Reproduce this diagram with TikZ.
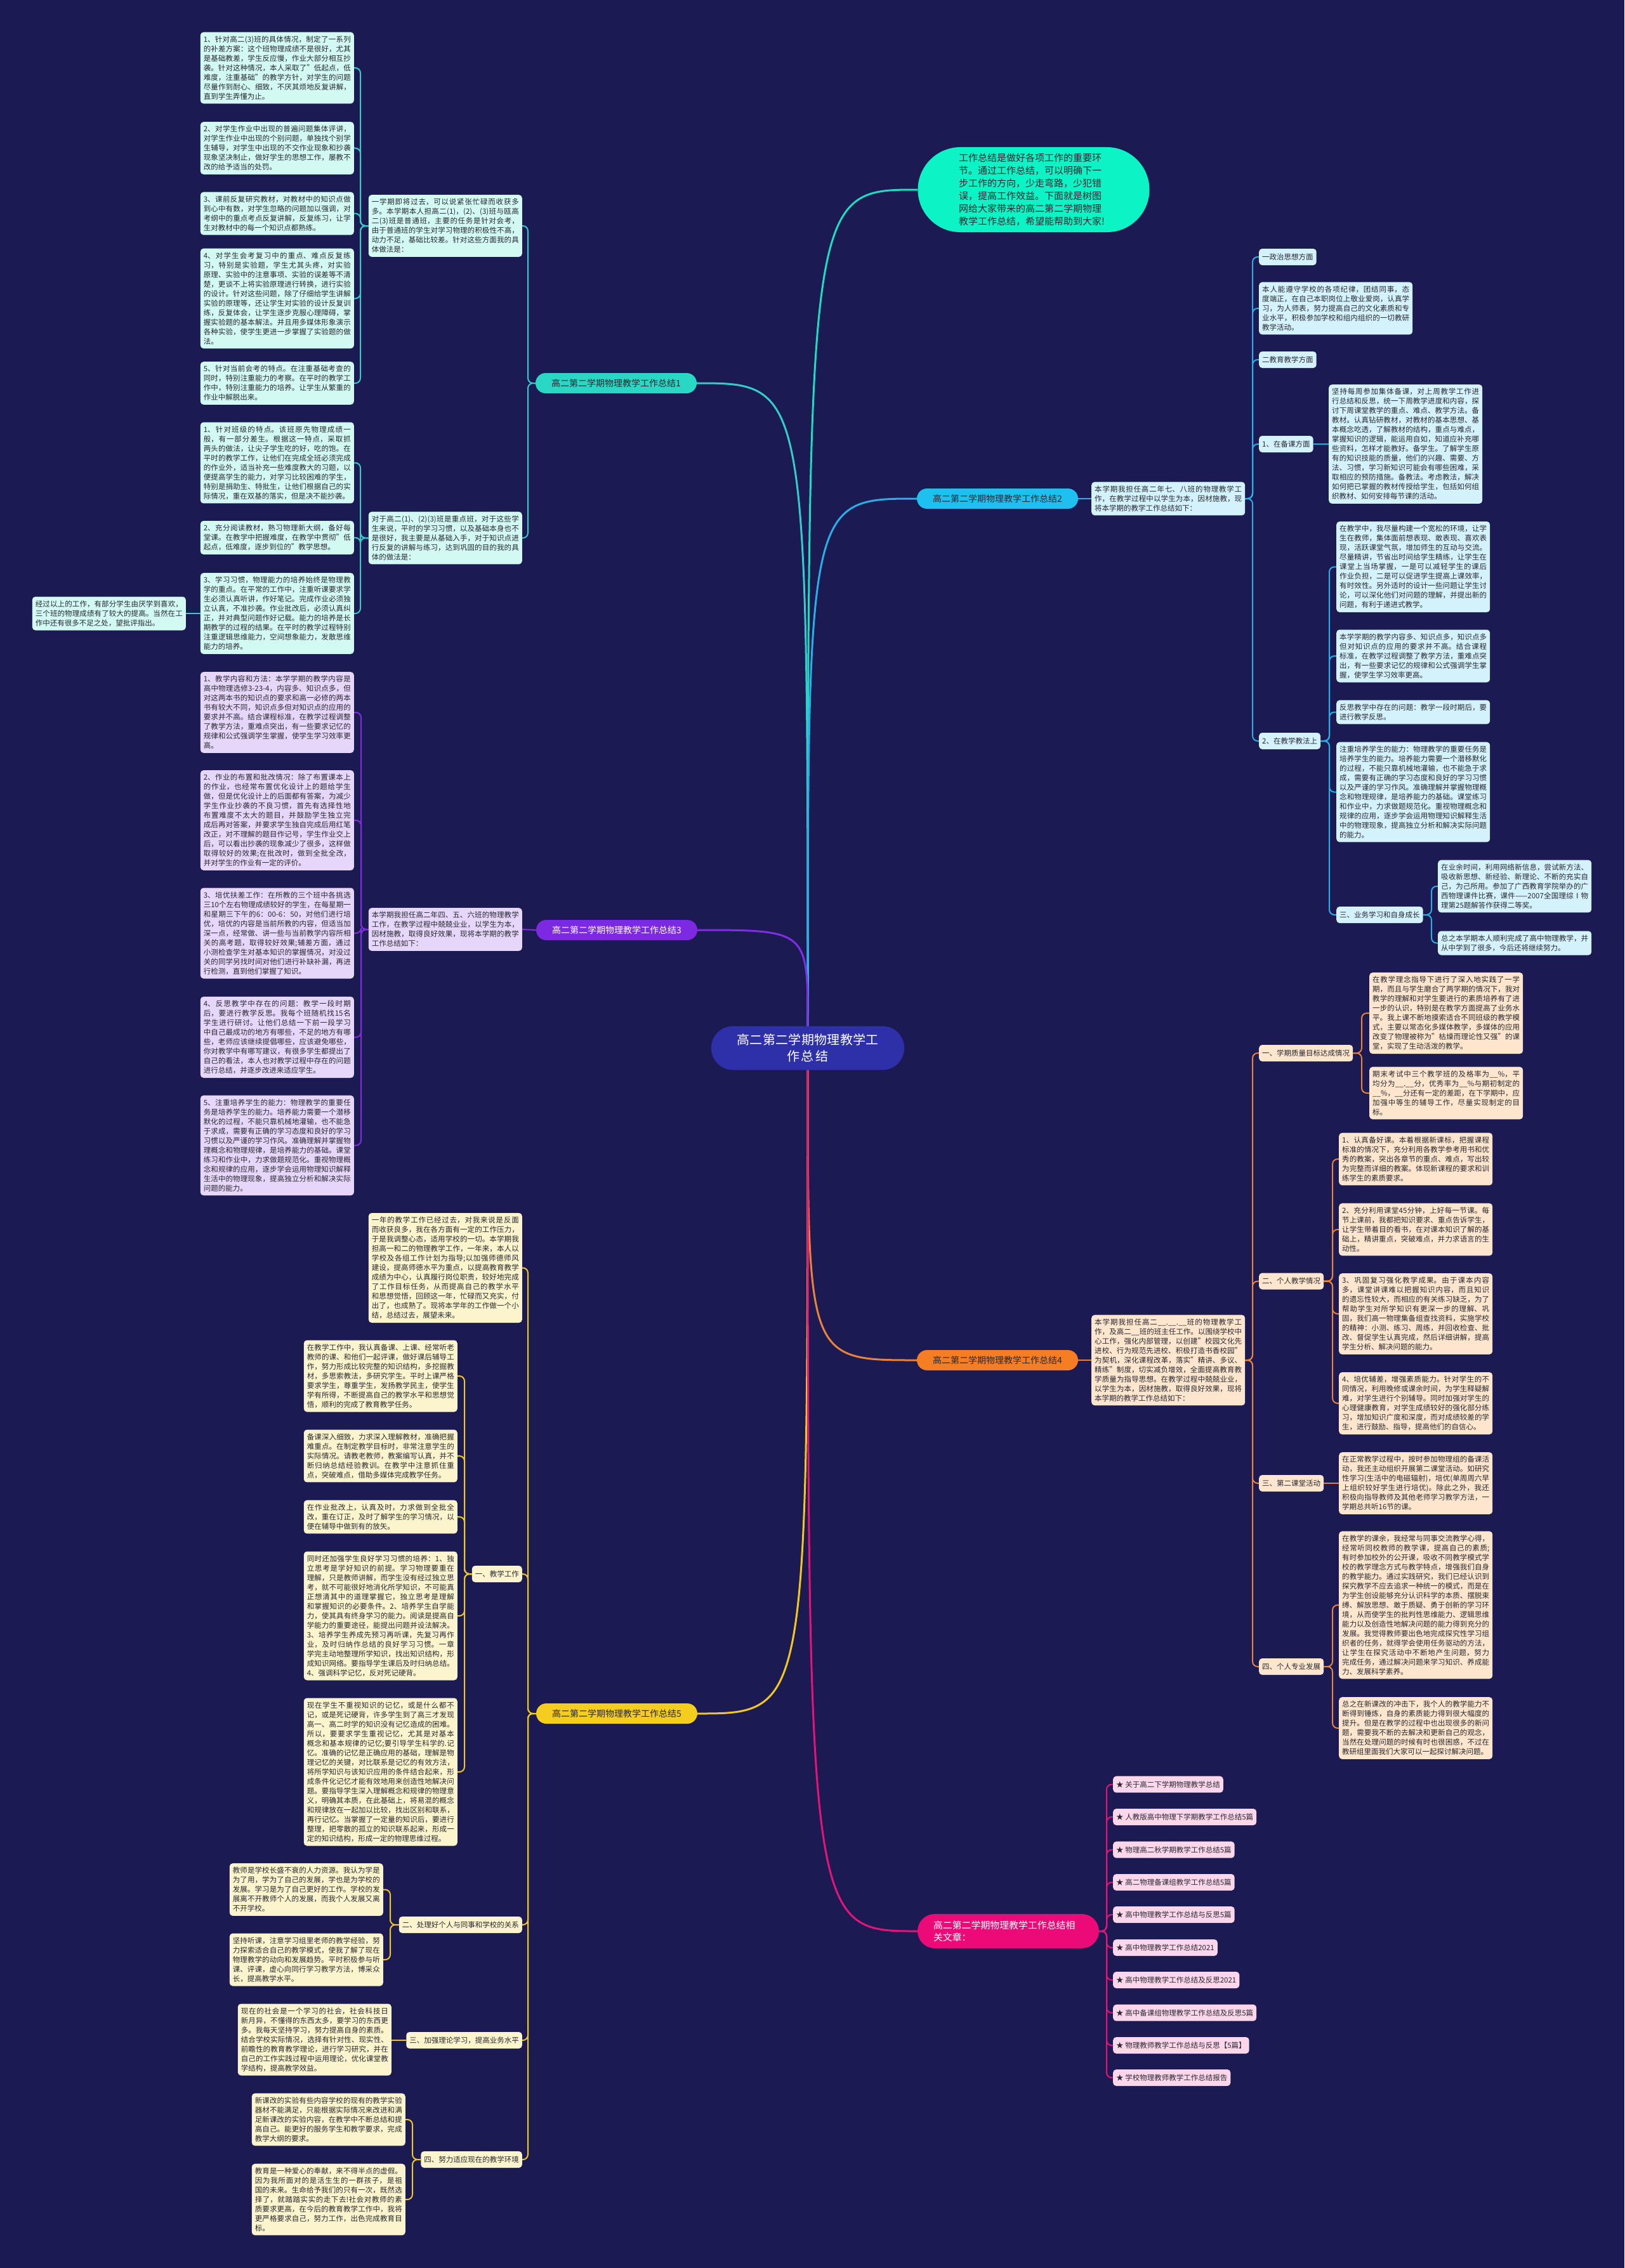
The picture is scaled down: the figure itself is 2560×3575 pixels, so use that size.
\documentclass[tikz,border=0pt]{standalone}
\usepackage{fontspec}
\setmainfont{Noto Sans CJK SC}
\XeTeXlinebreaklocale "zh"
\XeTeXlinebreakskip = 0pt plus 1pt
\pgfdeclarelayer{back}
\pgfdeclarelayer{bg}
\pgfsetlayers{back,bg,main}
\definecolor{bgc}{RGB}{27,26,82}
\definecolor{txt}{RGB}{40,40,48}
\definecolor{cen}{RGB}{46,48,170}
\definecolor{ell}{RGB}{12,244,198}
\definecolor{elline}{RGB}{30,220,190}
\definecolor{b1c}{RGB}{42,214,196}
\definecolor{b1l}{RGB}{50,205,200}
\definecolor{l1}{RGB}{210,250,242}
\definecolor{b2c}{RGB}{30,192,240}
\definecolor{b2l}{RGB}{40,175,230}
\definecolor{l2}{RGB}{212,242,252}
\definecolor{b3c}{RGB}{125,40,225}
\definecolor{b3l}{RGB}{130,45,225}
\definecolor{l3}{RGB}{230,215,250}
\definecolor{b4c}{RGB}{245,125,35}
\definecolor{b4l}{RGB}{235,130,55}
\definecolor{l4}{RGB}{253,230,205}
\definecolor{b5c}{RGB}{245,205,30}
\definecolor{b5l}{RGB}{240,200,30}
\definecolor{l5}{RGB}{252,244,205}
\definecolor{b6c}{RGB}{235,10,120}
\definecolor{b6l}{RGB}{230,20,120}
\definecolor{l6}{RGB}{252,215,235}
\tikzset{
  leaf/.style={rectangle, rounded corners=5pt, text width=232pt, inner xsep=5pt, inner ysep=6pt,
    font=\fontsize{11.5pt}{15pt}\selectfont, text=txt, align=justify},
  sub/.style={rectangle, rounded corners=5pt, inner xsep=5pt, inner ysep=5pt, minimum height=26pt,
    font=\fontsize{11.5pt}{15pt}\selectfont, text=txt},
  branch/.style={rectangle, rounded corners=16pt, minimum width=254pt, minimum height=32pt,
    font=\fontsize{14pt}{17pt}\selectfont},
  conn/.style={line width=2pt, rounded corners=8pt},
  mainc/.style={line width=3pt},
}
\newcommand\mmL[3]{\draw[conn] (#1.west) -- (#1.west -| #2) |- (#3.east);}
\newcommand\mmR[3]{\draw[conn] (#1.east) -- (#1.east -| #2) |- (#3.west);}
\begin{document}
\begin{tikzpicture}[x=1pt,y=-1pt]
\begin{pgfonlayer}{back}
\fill[bgc] (0,0) rectangle (2560,3575);
\end{pgfonlayer}
\useasboundingbox (0,0) rectangle (2560,3575);

% centre and top
\node[fill=cen, text=white, rounded corners=34pt, minimum width=304pt, minimum height=69pt, text width=250pt, align=center, font=\fontsize{20pt}{26pt}\selectfont] (C) at (1273,1652) {高二第二学期物理教学工\\作总结};
\node[fill=ell, rounded corners=67pt, minimum width=365pt, minimum height=134pt, text width=236pt, align=left, text=txt, font=\fontsize{15pt}{20pt}\selectfont] (E) at (1629,299) {工作总结是做好各项工作的重要环\\节。通过工作总结，可以明确下一\\步工作的方向，少走弯路，少犯错\\误，提高工作效益。下面就是树图\\网给大家带来的高二第二学期物理\\教学工作总结，希望能帮助到大家!};

% branches
\node[branch, fill=b1c, text=txt] (B1) at (971,604) {高二第二学期物理教学工作总结1};
\node[branch, fill=b2c, text=txt] (B2) at (1572,786) {高二第二学期物理教学工作总结2};
\node[branch, fill=b3c, text=white] (B3) at (972,1466) {高二第二学期物理教学工作总结3};
\node[branch, fill=b4c, text=txt] (B4) at (1572,2144) {高二第二学期物理教学工作总结4};
\node[branch, fill=b5c, text=txt] (B5) at (972,2701) {高二第二学期物理教学工作总结5};
\node[fill=b6c, text=white, rounded corners=27pt, minimum width=286pt, minimum height=54pt, text width=236pt, align=left, font=\fontsize{14.9pt}{19pt}\selectfont] (B6) at (1589,3044) {高二第二学期物理教学工作总结相\\关文章：};

% ---------- branch 1 ----------
\coordinate (s1a) at (832,0);
\coordinate (s1b) at (568,0);
\node[leaf, fill=l1, anchor=east] (I1) at (823,356) {一学期即将过去，可以说紧张忙碌而收获多多。本学期本人担高二(1)，(2)、(3)班与瓯高二(3)班是普通班，主要的任务是针对会考，由于普通班的学生对学习物理的积极性不高，动力不足，基础比较差。针对这些方面我的具体做法是：};
\node[leaf, fill=l1, anchor=east] (I2) at (823,848) {对于高二(1)、(2)(3)班是重点班，对于这些学生来说，平时的学习习惯，以及基础本身也不是很好，我主要是从基础入手，对于知识点进行反复的讲解与练习，达到巩固的目的我的具体的做法是：};
\node[leaf, fill=l1, anchor=east] (L1) at (558,107) {1、针对高二(3)班的具体情况，制定了一系列的补差方案：这个班物理成绩不是很好，尤其是基础教差，学生反应慢，作业大部分相互抄袭。针对这种情况，本人采取了"低起点，低难度，注重基础"的教学方针，对学生的问题尽量作到耐心、细致，不厌其烦地反复讲解，直到学生弄懂为止。};
\node[leaf, fill=l1, anchor=east] (L2) at (558,233.5) {2、对学生作业中出现的普遍问题集体评讲，对学生作业中出现的个别问题，单独找个别学生辅导，对学生中出现的不交作业现象和抄袭现象坚决制止，做好学生的思想工作，屡教不改的给予适当的处罚。};
\node[leaf, fill=l1, anchor=east] (L3) at (558,336.5) {3、课前反复研究教材，对教材中的知识点做到心中有数，对学生忽略的问题加以强调，对考纲中的重点考点反复讲解，反复练习，让学生对教材中的每一个知识点都熟练。};
\node[leaf, fill=l1, anchor=east] (L4) at (558,470.5) {4、对学生会考复习中的重点、难点反复练习，特别是实验题，学生尤其头疼，对实验原理、实验中的注意事项、实验的误差等不清楚，更谈不上将实验原理进行转换，进行实验的设计。针对这些问题，除了仔细给学生讲解实验的原理等，还让学生对实验的设计反复训练，反复体会，让学生逐步克服心理障碍，掌握实验题的基本解法。并且用多媒体形象演示各种实验，使学生更进一步掌握了实验题的做法。};
\node[leaf, fill=l1, anchor=east] (L5) at (558,604) {5、针对当前会考的特点。在注重基础考查的同时，特别注重能力的考察。在平时的教学工作中，特别注重能力的培养。让学生从繁重的作业中解脱出来。};
\node[leaf, fill=l1, anchor=east] (L6) at (558,729.5) {1、针对班级的特点。该班原先物理成绩一般，有一部分差生。根据这一特点，采取抓两头的做法，让尖子学生吃的好，吃的饱。在平时的教学工作，让他们在完成全班必须完成的作业外，适当补充一些难度教大的习题，以便提高学生的能力，对学习比较困难的学生，特别是捐助生、特批生，让他们根据自己的实际情况，重在双基的落实，但是决不能抄袭。};
\node[leaf, fill=l1, anchor=east] (L7) at (558,847.5) {2、充分阅读教材，熟习物理新大纲，备好每堂课。在教学中把握难度，在教学中贯彻"低起点，低难度，逐步到位的"教学思想。};
\node[leaf, fill=l1, anchor=east] (L8) at (558,967) {3、学习习惯，物理能力的培养始终是物理教学的重点。在平常的工作中，注重听课要求学生必须认真听讲，作好笔记。完成作业必须独立认真，不准抄袭。作业批改后，必须认真纠正，并对典型问题作好记载。能力的培养是长期教学的过程的结果。在平时的教学过程特别注重逻辑思维能力，空间想象能力，发散思维能力的培养。};
\node[leaf, fill=l1, anchor=east] (F) at (293,967) {经过以上的工作，有部分学生由厌学到喜欢，三个班的物理成绩有了较大的提高。当然在工作中还有很多不足之处，望批评指出。};

% ---------- branch 3 ----------
\coordinate (s3) at (569,0);
\node[leaf, fill=l3, anchor=east] (I3) at (823,1465) {本学期我担任高二年四、五、六班的物理教学工作，在教学过程中兢兢业业，以学生为本，因材施教，取得良好效果，现将本学期的教学工作总结如下：};
\node[leaf, fill=l3, anchor=east] (P1) at (558,1123) {1、教学内容和方法：本学学期的教学内容是高中物理选修3-23-4，内容多、知识点多，但对这两本书的知识点的要求和高一必修的两本书有较大不同，知识点多但对知识点的应用的要求并不高。结合课程标准，在教学过程调整了教学方法，重难点突出，有一些要求记忆的规律和公式强调学生掌握，使学生学习效率更高。};
\node[leaf, fill=l3, anchor=east] (P2) at (558,1293) {2、作业的布置和批改情况：除了布置课本上的作业，也经常布置优化设计上的题给学生做，但是优化设计上的后面都有答案，为减少学生作业抄袭的不良习惯，首先有选择性地布置难度不太大的题目，并鼓励学生独立完成后再对答案，并要求学生独自完成后用红笔改正，对不理解的题目作记号，学生作业交上后，可以看出抄袭的现象减少了很多，这样做取得较好的效果;在批改时，做到全批全改，并对学生的作业有一定的评价。};
\node[leaf, fill=l3, anchor=east] (P3) at (558,1471) {3、培优扶差工作：在所教的三个班中各挑选三10个左右物理成绩较好的学生，在每星期一和星期三下午的6：00-6：50，对他们进行培优，培优的内容是当前所教的内容，但适当加深一点，经常做、讲一些与当前教学内容所相关的高考题，取得较好效果;辅差方面，通过小测检查学生对基本知识的掌握情况，对没过关的同学另找时间对他们进行补缺补漏，再进行检测，直到他们掌握了知识。};
\node[leaf, fill=l3, anchor=east] (P4) at (558,1635) {4、反思教学中存在的问题：教学一段时期后，要进行教学反思。我每个班随机找15名学生进行研讨。让他们总结一下前一段学习中自己最成功的地方有哪些，不足的地方有哪些，老师应该继续提倡哪些，应该避免哪些，你对教学中有哪写建议，有很多学生都提出了自己的看法，本人也对教学过程中存在的问题进行总结，并逐步改进来适应学生。};
\node[leaf, fill=l3, anchor=east] (P5) at (558,1805.5) {5、注重培养学生的能力：物理教学的重要任务是培养学生的能力。培养能力需要一个潜移默化的过程，不能只靠机械地灌输，也不能急于求成，需要有正确的学习态度和良好的学习习惯以及严谨的学习作风。准确理解并掌握物理概念和物理规律，是培养能力的基础。课堂练习和作业中，力求做题规范化。重视物理概念和规律的应用，逐步学会运用物理知识解释生活中的物理现象，提高独立分析和解决实际问题的能力。};

% ---------- branch 5 ----------
\coordinate (s5) at (832,0);
\coordinate (s5a) at (732,0);
\coordinate (s5b) at (615,0);
\coordinate (s5d) at (650,0);
\node[leaf, fill=l5, anchor=east] (I5) at (823,1998.5) {一年的教学工作已经过去，对我来说是反面而收获良多，我在各方面有一定的工作压力，于是我调整心态，适用学校的一切。本学期我担高一和二的物理教学工作，一年来，本人以学校及各组工作计划为指导;以加强师德师风建设，提高师德水平为重点，以提高教育教学成绩为中心，认真履行岗位职责，较好地完成了工作目标任务，从而提高自己的教学水平和思想觉悟，回顾这一年，忙碌而又充实，付出了，也成熟了。现将本学年的工作做一个小结，总结过去，展望未来。};
\node[sub, fill=l5, anchor=east] (S1) at (823,2481) {一、教学工作};
\node[leaf, fill=l5, anchor=east] (Y1) at (721,2169) {在教学工作中，我认真备课、上课、经常听老教师的课、和他们一起评课，做好课后辅导工作，努力形成比较完整的知识结构，多挖掘教材，多思索教法，多研究学生。平时上课严格要求学生，尊重学生，发扬教学民主，使学生学有所得，不断提高自己的教学水平和思想觉悟，顺利的完成了教育教学任务。};
\node[leaf, fill=l5, anchor=east] (Y2) at (721,2295) {备课深入细致，力求深入理解教材，准确把握难重点。在制定教学目标时，非常注意学生的实际情况。请教老教师，教案编写认真，并不断归纳总结经验教训。在教学中注意抓住重点，突破难点，借助多媒体完成教学任务。};
\node[leaf, fill=l5, anchor=east] (Y3) at (721,2391) {在作业批改上，认真及时，力求做到全批全改，重在订正，及时了解学生的学习情况，以便在辅导中做到有的放矢。};
\node[leaf, fill=l5, anchor=east] (Y4) at (721,2547) {同时还加强学生良好学习习惯的培养：1、独立思考是学好知识的前提。学习物理要重在理解，只是教师讲解，而学生没有经过独立思考，就不可能很好地消化所学知识，不可能真正想清其中的道理掌握它，独立思考是理解和掌握知识的必要条件。2、培养学生自学能力，使其具有终身学习的能力。阅读是提高自学能力的重要途径，能提出问题并设法解决。3、培养学生养成先预习再听课，先复习再作业，及时归纳作总结的良好学习习惯。一章学完主动地整理所学知识，找出知识结构，形成知识网络。要指导学生课后及时归纳总结。4、强调科学记忆，反对死记硬背。};
\node[leaf, fill=l5, anchor=east] (Y5) at (721,2793) {现在学生不重视知识的记忆，或是什么都不记，或是死记硬背，许多学生到了高三才发现高一、高二时学的知识没有记忆造成的困难。所以，要要求学生重视记忆，尤其是对基本概念和基本规律的记忆;要引导学生科学的.记忆。准确的记忆是正确应用的基础，理解是物理记忆的关键，对比联系是记忆的有效方法，将所学知识与该知识应用的条件结合起来，形成条件化记忆才能有效地用来创造性地解决问题。要指导学生深入理解概念和规律的物理意义，明确其本质，在此基础上，将易混的概念和规律放在一起加以比较，找出区别和联系，再行记忆。当掌握了一定量的知识后，要进行整理，把零散的孤立的知识联系起来，形成一定的知识结构，形成一定的物理思维过程。};
\node[sub, fill=l5, anchor=east] (S2) at (823,3034) {二、处理好个人与同事和学校的关系};
\node[leaf, fill=l5, anchor=east] (Z1) at (604,2978.5) {教师是学校长盛不衰的人力资源。我认为学是为了用，学为了自己的发展，学也是为学校的发展。学习是为了自己更好的工作。学校的发展离不开教师个人的发展，而我个人发展又离不开学校。};
\node[leaf, fill=l5, anchor=east] (Z2) at (604,3089) {坚持听课，注意学习组里老师的教学经验，努力探索适合自己的教学模式，使我了解了现在物理教学的动向和发展趋势。平时积极参与听课、评课，虚心向同行学习教学方法，博采众长，提高教学水平。};
\node[sub, fill=l5, anchor=east] (S3) at (823,3216) {三、加强理论学习，提高业务水平};
\node[leaf, fill=l5, anchor=east] (Z3) at (617,3215) {现在的社会是一个学习的社会，社会科技日新月异，不懂得的东西太多，要学习的东西更多。我每天坚持学习，努力提高自身的素质。结合学校实际情况，选择有针对性、现实性、前瞻性的教育教学理论，进行学习研究，并在自己的工作实践过程中运用理论，优化课堂教学结构，提高教学效益。};
\node[sub, fill=l5, anchor=east] (S4) at (823,3404) {四、努力适应现在的教学环境};
\node[leaf, fill=l5, anchor=east] (Z4) at (639,3341) {新课改的实验有些内容学校的现有的教学实验器材不能满足，只能根据实际情况来改进和满足新课改的实验内容，在教学中不断总结和提高自己。能更好的服务学生和教学要求，完成教学大纲的要求。};
\node[leaf, fill=l5, anchor=east] (Z5) at (639,3467) {教育是一种爱心的奉献，来不得半点的虚假。因为我所面对的是活生生的一群孩子，是祖国的未来。生命给予我们的只有一次，既然选择了，就踏踏实实的走下去!社会对教师的素质要求更高，在今后的教育教学工作中，我将更严格要求自己，努力工作，出色完成教育目标。};

% ---------- branch 2 ----------
\coordinate (s2) at (1974,0);
\coordinate (s2a) at (2095,0);
\coordinate (s2b) at (2256,0);
\node[leaf, fill=l2, anchor=west] (J2) at (1720,786) {本学期我担任高二年七、八班的物理教学工作，在教学过程中以学生为本，因材施教，现将本学期的教学工作总结如下：};
\node[sub, fill=l2, anchor=west] (C1) at (1984,405) {一政治思想方面};
\node[leaf, fill=l2, anchor=west] (C1l) at (1984,486) {本人能遵守学校的各项纪律，团结同事，态度端正，在自己本职岗位上敬业爱岗，认真学习，为人师表，努力提高自己的文化素质和专业水平，积极参加学校和组内组织的一切教研教学活动。};
\node[sub, fill=l2, anchor=west] (C2) at (1984,567) {二教育教学方面};
\node[sub, fill=l2, anchor=west] (C3) at (1984,700) {1、在备课方面};
\node[leaf, fill=l2, anchor=west] (C3l) at (2094,700) {坚持每周参加集体备课，对上周教学工作进行总结和反思，统一下周教学进度和内容，探讨下周课堂教学的重点、难点、教学方法。备教材。认真钻研教材，对教材的基本思想、基本概念吃透，了解教材的结构，重点与难点，掌握知识的逻辑，能运用自如，知道应补充哪些资料，怎样才能教好。备学生。了解学生原有的知识技能的质量，他们的兴趣、需要、方法、习惯，学习新知识可能会有哪些困难，采取相应的预防措施。备教法。考虑教法，解决如何把已掌握的教材传授给学生，包括如何组织教材、如何安排每节课的活动。};
\node[sub, fill=l2, anchor=west] (C4) at (1984,1168) {2、在教学教法上};
\node[leaf, fill=l2, anchor=west] (C4a) at (2106,893.5) {在教学中，我尽量构建一个宽松的环境，让学生在教师，集体面前想表现、敢表现、喜欢表现，活跃课堂气氛，增加师生的互动与交流。尽量精讲，节省出时间给学生精练，让学生在课堂上当场掌握，一是可以减轻学生的课后作业负担，二是可以促进学生提高上课效率，有时效性。另外适时的设计一些问题让学生讨论，可以深化他们对问题的理解，并提出新的问题，有利于递进式教学。};
\node[leaf, fill=l2, anchor=west] (C4b) at (2106,1034) {本学学期的教学内容多、知识点多，知识点多但对知识点的应用的要求并不高。结合课程标准，在教学过程调整了教学方法，重难点突出，有一些要求记忆的规律和公式强调学生掌握，使学生学习效率更高。};
\node[leaf, fill=l2, anchor=west] (C4c) at (2106,1122.5) {反思教学中存在的问题：教学一段时期后，要进行教学反思。};
\node[leaf, fill=l2, anchor=west] (C4d) at (2106,1248.5) {注重培养学生的能力：物理教学的重要任务是培养学生的能力。培养能力需要一个潜移默化的过程，不能只靠机械地灌输，也不能急于求成，需要有正确的学习态度和良好的学习习惯以及严谨的学习作风。准确理解并掌握物理概念和物理规律，是培养能力的基础。课堂练习和作业中，力求做题规范化。重视物理概念和规律的应用，逐步学会运用物理知识解释生活中的物理现象，提高独立分析和解决实际问题的能力。};
\node[sub, fill=l2, anchor=west] (C5) at (2106,1442) {三、业务学习和自身成长};
\node[leaf, fill=l2, anchor=west] (C5a) at (2266,1397) {在业余时间，利用网络新信息，尝试新方法、吸收新思想、新经验、新理论、不断的充实自己，为己所用。参加了广西教育学院举办的广西物理课件比赛，课件——2007全国理综Ⅰ物理第25题解答作获得二等奖。};
\node[leaf, fill=l2, anchor=west] (C5b) at (2266,1486.5) {总之本学期本人顺利完成了高中物理教学，并从中学到了很多，今后还将继续努力。};

% ---------- branch 4 ----------
\coordinate (s4) at (1974,0);
\coordinate (s4a) at (2146,0);
\coordinate (s4b) at (2100,0);
\node[leaf, fill=l4, anchor=west] (J4) at (1720,2144) {本学期我担任高二\_\_.\_\_.\_\_班的物理教学工作，及高二\_\_班的班主任工作。以围绕学校中心工作，强化内部管理，以创建"校园文化先进校、行为规范先进校、积极打造书香校园"为契机，深化课程改革，落实"精讲、多议、精练"制度，切实减负增效，全面提高教育教学质量为指导思想。在教学过程中兢兢业业，以学生为本，因材施教，取得良好效果，现将本学期的教学工作总结如下：};
\node[sub, fill=l4, anchor=west] (D1) at (1984,1660) {一、学期质量目标达成情况};
\node[leaf, fill=l4, anchor=west] (D1a) at (2158,1597) {在教学理念指导下进行了深入地实践了一学期，而且与学生磨合了两学期的情况下，我对教学的理解和对学生要进行的素质培养有了进一步的认识，特别是在教学方面提高了业务水平。我上课不断地摸索适合不同班级的教学模式，主要以常态化多媒体教学，多媒体的应用改变了物理被称为"枯燥而理论性又强"的课堂，实现了生动活泼的教学。};
\node[leaf, fill=l4, anchor=west] (D1b) at (2158,1723) {期末考试中三个教学班的及格率为\_\_\%，平均分为\_\_.\_\_分，优秀率为\_\_\%与期初制定的\_\_\%，\_\_分还有一定的差距，在下学期中，应加强中等生的辅导工作，尽量实现制定的目标。};
\node[sub, fill=l4, anchor=west] (D2) at (1984,2019.5) {二、个人教学情况};
\node[leaf, fill=l4, anchor=west] (D2a) at (2110,1827) {1、认真备好课。本着根据新课标，把握课程标准的情况下，充分利用各教学参考用书和优秀的教案，突出各章节的重点、难点，写出较为完整而详细的教案。体现新课程的要求和训练学生的素质要求。};
\node[leaf, fill=l4, anchor=west] (D2b) at (2110,1938) {2、充分利用课堂45分钟，上好每一节课。每节上课前，我都把知识要求、重点告诉学生，让学生带着目的看书，在对课本知识了解的基础上，精讲重点，突破难点，并力求语言的生动性。};
\node[leaf, fill=l4, anchor=west] (D2c) at (2110,2071) {3、巩固复习强化教学成果。由于课本内容多，课堂讲课难以把握知识内容，而且知识的遗忘性较大，而相应的有关练习缺乏，为了帮助学生对所学知识有更深一步的理解、巩固，我们高一物理集备组查找资料，实施学校的精神：小测、练习、周练，并回收检查、批改、督促学生认真完成，然后详细讲解，提高学生分析、解决问题的能力。};
\node[leaf, fill=l4, anchor=west] (D2d) at (2110,2212) {4、培优辅差，增强素质能力。针对学生的不同情况，利用晚修或课余时间，为学生释疑解难，对学生进行个别辅导。同时加强对学生的心理健康教育，对学生成绩较好的强化部分练习，增加知识广度和深度，而对成绩较差的学生，进行鼓励、指导，提高他们的自信心。};
\node[sub, fill=l4, anchor=west] (D3) at (1984,2338) {三、第二课堂活动};
\node[leaf, fill=l4, anchor=west] (D3a) at (2110,2338) {在正常教学过程中，按时参加物理组的备课活动，我还主动组织开展第二课堂活动。如研究性学习(生活中的电磁辐射)，培优(单周周六早上组织较好学生进行培优)。除此之外，我还积极向指导教师及其他老师学习教学方法，一学期总共听16节的课。};
\node[sub, fill=l4, anchor=west] (D4) at (1984,2627) {四、个人专业发展};
\node[leaf, fill=l4, anchor=west] (D4a) at (2110,2530) {在教学的课余，我经常与同事交流教学心得，经常听同校教师的教学课，提高自己的素质;有时参加校外的公开课，吸收不同教学模式学校的教学理念方式与教学特点，增强我们自身的教学能力。通过实践研究，我们已经认识到探究教学不应去追求一种统一的模式，而是在为学生创设能够充分认识科学的本质、摆脱束缚、解放思想、敢于质疑、勇于创新的学习环境，从而使学生的批判性思维能力、逻辑思维能力以及创造性地解决问题的能力得到充分的发展。我觉得教师要出色地完成探究性学习组织者的任务，就得学会使用任务驱动的方法，让学生在探究活动中不断地产生问题，努力完成任务，通过解决问题来学习知识、养成能力、发展科学素养。};
\node[leaf, fill=l4, anchor=west] (D4b) at (2110,2724) {总之在新课改的冲击下，我个人的教学能力不断得到锤炼，自身的素质能力得到很大幅度的提升。但是在教学的过程中也出现很多的新问题，需要我不断的去解决和更新自己的观念，当然在处理问题的时候有时也很困惑，不过在教研组里面我们大家可以一起探讨解决问题。};

% ---------- branch 6 ----------
\coordinate (s6) at (1744,0);
\node[sub, fill=l6, anchor=west] (R1) at (1754,2812.7) {★ 关于高二下学期物理教学总结};
\node[sub, fill=l6, anchor=west] (R2) at (1754,2864) {★ 人教版高中物理下学期教学工作总结5篇};
\node[sub, fill=l6, anchor=west] (R3) at (1754,2915.7) {★ 物理高二秋学期教学工作总结5篇};
\node[sub, fill=l6, anchor=west] (R4) at (1754,2967) {★ 高二物理备课组教学工作总结5篇};
\node[sub, fill=l6, anchor=west] (R5) at (1754,3018) {★ 高中物理教学工作总结与反思5篇};
\node[sub, fill=l6, anchor=west] (R6) at (1754,3070) {★ 高中物理教学工作总结2021};
\node[sub, fill=l6, anchor=west] (R7) at (1754,3121) {★ 高中物理教学工作总结及反思2021};
\node[sub, fill=l6, anchor=west] (R8) at (1754,3172.7) {★ 高中备课组物理教学工作总结及反思5篇};
\node[sub, fill=l6, anchor=west] (R9) at (1754,3224) {★ 物理教师教学工作总结与反思【5篇】};
\node[sub, fill=l6, anchor=west] (R10) at (1754,3275) {★ 学校物理教师教学工作总结报告};

% ---------- connectors ----------
\begin{pgfonlayer}{bg}
\draw[mainc, elline] (C.north) .. controls (C.north |- E.west) .. (E.west);
\draw[mainc, b1l] (C.north) .. controls (C.north |- B1.east) .. (B1.east);
\draw[mainc, b2l] (C.north) .. controls (C.north |- B2.west) .. (B2.west);
\draw[mainc, b3l] (C.north) .. controls (C.north |- B3.east) .. (B3.east);
\draw[mainc, b4l] (C.south) .. controls (C.south |- B4.west) .. (B4.west);
\draw[mainc, b5l] (C.south) .. controls (C.south |- B5.east) .. (B5.east);
\draw[mainc, b6l] (C.south) .. controls (C.south |- B6.west) .. (B6.west);

\begin{scope}[b1l]
\mmL{B1}{s1a}{I1} \mmL{B1}{s1a}{I2}
\mmL{I1}{s1b}{L1} \mmL{I1}{s1b}{L2} \mmL{I1}{s1b}{L3} \mmL{I1}{s1b}{L4} \mmL{I1}{s1b}{L5}
\mmL{I2}{s1b}{L6} \mmL{I2}{s1b}{L7} \mmL{I2}{s1b}{L8}
\draw[conn] (L8.west) -- (F.east);
\end{scope}
\begin{scope}[b3l]
\draw[conn] (B3.west) -- (I3.east);
\mmL{I3}{s3}{P1} \mmL{I3}{s3}{P2} \mmL{I3}{s3}{P3} \mmL{I3}{s3}{P4} \mmL{I3}{s3}{P5}
\end{scope}
\begin{scope}[b5l]
\mmL{B5}{s5}{I5} \mmL{B5}{s5}{S1} \mmL{B5}{s5}{S2} \mmL{B5}{s5}{S3} \mmL{B5}{s5}{S4}
\mmL{S1}{s5a}{Y1} \mmL{S1}{s5a}{Y2} \mmL{S1}{s5a}{Y3} \mmL{S1}{s5a}{Y4} \mmL{S1}{s5a}{Y5}
\mmL{S2}{s5b}{Z1} \mmL{S2}{s5b}{Z2}
\draw[conn] (S3.west) -- (S3.west -| Z3.east);
\mmL{S4}{s5d}{Z4} \mmL{S4}{s5d}{Z5}
\end{scope}
\begin{scope}[b2l]
\draw[conn] (B2.east) -- (J2.west);
\mmR{J2}{s2}{C1} \mmR{J2}{s2}{C1l} \mmR{J2}{s2}{C2} \mmR{J2}{s2}{C3} \mmR{J2}{s2}{C4}
\draw[conn] (C3.east) -- (C3l.west);
\mmR{C4}{s2a}{C4a} \mmR{C4}{s2a}{C4b} \mmR{C4}{s2a}{C4c} \mmR{C4}{s2a}{C4d} \mmR{C4}{s2a}{C5}
\mmR{C5}{s2b}{C5a} \mmR{C5}{s2b}{C5b}
\end{scope}
\begin{scope}[b4l]
\draw[conn] (B4.east) -- (J4.west);
\mmR{J4}{s4}{D1} \mmR{J4}{s4}{D2} \mmR{J4}{s4}{D3} \mmR{J4}{s4}{D4}
\mmR{D1}{s4a}{D1a} \mmR{D1}{s4a}{D1b}
\mmR{D2}{s4b}{D2a} \mmR{D2}{s4b}{D2b} \mmR{D2}{s4b}{D2c} \mmR{D2}{s4b}{D2d}
\draw[conn] (D3.east) -- (D3a.west);
\mmR{D4}{s4b}{D4a} \mmR{D4}{s4b}{D4b}
\end{scope}
\begin{scope}[b6l]
\mmR{B6}{s6}{R1} \mmR{B6}{s6}{R2} \mmR{B6}{s6}{R3} \mmR{B6}{s6}{R4} \mmR{B6}{s6}{R5}
\mmR{B6}{s6}{R6} \mmR{B6}{s6}{R7} \mmR{B6}{s6}{R8} \mmR{B6}{s6}{R9} \mmR{B6}{s6}{R10}
\end{scope}
\end{pgfonlayer}
\end{tikzpicture}
\end{document}
